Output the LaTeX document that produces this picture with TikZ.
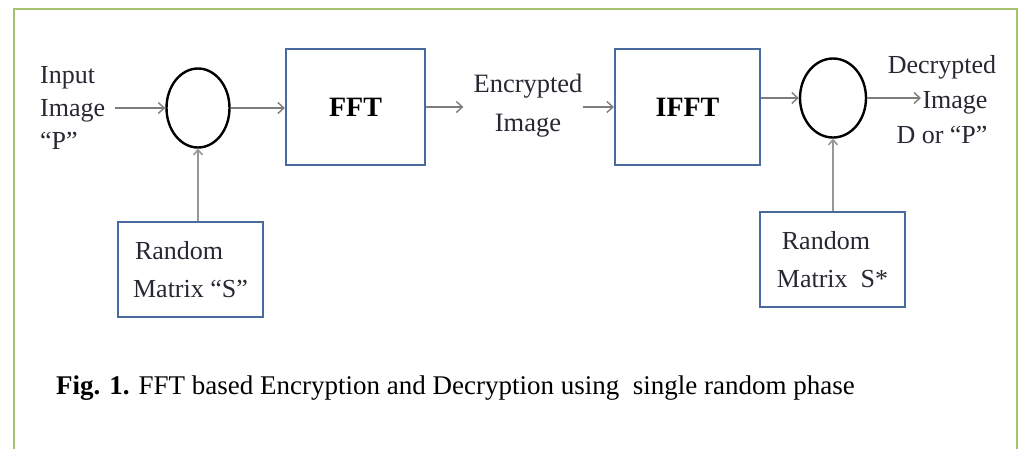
\documentclass[tikz,border=0pt]{standalone}
\usepackage{fontspec}
\setmainfont{Liberation Serif}
\usetikzlibrary{arrows.meta,shapes.geometric}
\definecolor{boxblue}{RGB}{72,106,156}
\definecolor{framegreen}{RGB}{165,195,110}
\definecolor{arrgray}{RGB}{125,125,125}
\definecolor{txtgray}{RGB}{40,40,50}
\begin{document}
\begin{tikzpicture}[x=1pt,y=-1pt,
  blk/.style={draw=boxblue, line width=2.2pt, fill=white, inner sep=0pt},
  mixer/.style={ellipse, draw=black, line width=2.4pt, inner sep=0pt},
  lbl/.style={text=txtgray, font=\fontsize{26}{33}\selectfont, inner sep=0pt},
  flow/.style={draw=arrgray, line width=1.4pt, -{Straight Barb[length=6pt,width=11pt,line width=1.4pt]}},
  feed/.style={draw=arrgray!80, line width=2.6pt, -{Straight Barb[length=5pt,width=9pt,line width=1.6pt]}}
]
\useasboundingbox (0,0) rectangle (1019,448);
\fill[white] (0,0) rectangle (1019,448);
\draw[framegreen, line width=1.6pt] (14,470) -- (14,9) -- (1017,9) -- (1017,470);

% input
\node[lbl, align=left, anchor=west] (in) at (40,108) {Input\\Image\\“P”};
\node[mixer, minimum width=63pt, minimum height=79pt] (m1) at (198,108) {};
\node[blk, minimum width=139pt, minimum height=116pt, font=\fontsize{28}{30}\selectfont\bfseries] (fft) at (355.5,107) {FFT};
\node[lbl, align=center, font=\fontsize{26.5}{39}\selectfont] (enc) at (528,106) {Encrypted\\Image};
\node[blk, minimum width=145pt, minimum height=116pt, font=\fontsize{28}{30}\selectfont\bfseries] (ifft) at (687.5,107) {IFFT};
\node[mixer, minimum width=66pt, minimum height=79pt] (m2) at (833,98) {};
\node[lbl, align=center, font=\fontsize{26}{35}\selectfont] (out) at (942,100) {Decrypted\\\hspace*{26pt}Image\\D or “P”};
\coordinate (outend) at (921,98);

\node[blk, minimum width=145pt, minimum height=95pt, align=left, lbl, text=txtgray, font=\fontsize{26}{38}\selectfont] (s1) at (190.5,269.5) {\hspace*{2pt}Random\\Matrix “S”};
\node[blk, minimum width=145pt, minimum height=95pt, align=left, lbl, text=txtgray, font=\fontsize{26}{38}\selectfont] (s2) at (832.5,259.5) {\hspace*{5pt}Random\\Matrix\ \ S*};

\draw[flow, shorten <=10pt] (in.east |- m1.west) -- (m1.west);
\draw[flow] (m1.east) -- (fft.west |- m1.east);
\draw[flow, shorten >=10pt] (fft.east) -- (enc.west |- fft.east);
\draw[flow] (enc.east |- ifft.west) -- (ifft.west);
\draw[flow] (ifft.east |- m2.west) -- (m2.west);
\draw[flow] (m2.east) -- (outend);
\draw[feed] (s1.north -| m1.south) -- (m1.south);
\draw[feed] (s2.north -| m2.south) -- (m2.south);

\node[anchor=west, inner sep=0pt, font=\fontsize{27}{30}\selectfont] (cap) at (56,388) {\textbf{Fig. 1.} FFT based Encryption and Decryption using\ \ single random phase};
\end{tikzpicture}
\end{document}
